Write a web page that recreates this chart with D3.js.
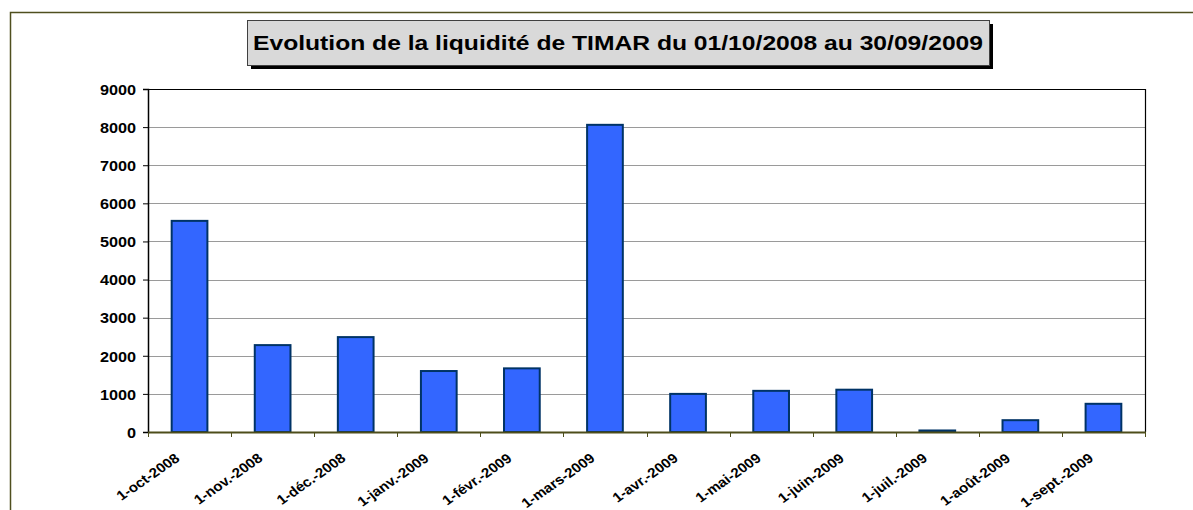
<!DOCTYPE html>
<html>
<head>
<meta charset="utf-8">
<script src="https://cdn.jsdelivr.net/npm/d3@7"></script>
<style>
  body { margin: 0; background: #fff; }
  svg text { font-family: Arial, "Liberation Sans", sans-serif; font-weight: bold; fill: #000; }
</style>
</head>
<body>
<div id="chart"></div>
<script>
// values
const months = ["1-oct-2008", "1-nov.-2008", "1-déc.-2008", "1-janv.-2009", "1-févr.-2009", "1-mars-2009",
  "1-avr.-2009", "1-mai-2009", "1-juin-2009", "1-juil.-2009", "1-août-2009", "1-sept.-2009"];
const liquidite = [5540, 2280, 2490, 1600, 1670, 8060, 1000, 1080, 1110, 40, 310, 740];
const yTicks = [0, 1000, 2000, 3000, 4000, 5000, 6000, 7000, 8000, 9000];
const titleText = "Evolution de la liquidité de TIMAR du 01/10/2008 au 30/09/2009";

const width = 1193, height = 510;
const plot = { left: 148, right: 1145, top: 89, bottom: 432 };
const sx = 1.12; // the original picture is stretched sideways a little

const data = months.map((m, i) => ({ month: m, value: liquidite[i] }));

const svg = d3.select("#chart").append("svg")
  .attr("width", width)
  .attr("height", height);

// outer chart frame (runs off right/bottom edges)
svg.append("rect")
  .attr("x", 10.5).attr("y", 12.5)
  .attr("width", width + 20).attr("height", height + 20)
  .attr("fill", "#fff")
  .attr("stroke", "#4f4f1f")
  .attr("stroke-width", 1.5);

// title box with shadow
svg.append("rect")
  .attr("x", 251).attr("y", 24).attr("width", 742).attr("height", 45)
  .attr("fill", "#000");
svg.append("rect")
  .attr("x", 247.5).attr("y", 20.5).attr("width", 742).attr("height", 45)
  .attr("fill", "#d9d9d9")
  .attr("stroke", "#404040")
  .attr("stroke-width", 1);
svg.append("text")
  .attr("x", 618).attr("y", 50)
  .attr("text-anchor", "middle")
  .attr("font-size", 20)
  .attr("textLength", 730)
  .attr("lengthAdjust", "spacingAndGlyphs")
  .text(titleText);

const x = d3.scaleBand()
  .domain(months)
  .range([plot.left, plot.right])
  .paddingInner(0.57)
  .paddingOuter(0.285);

const y = d3.scaleLinear()
  .domain([0, 9000])
  .range([plot.bottom, plot.top]);

// plot area
svg.append("rect")
  .attr("x", plot.left).attr("y", plot.top)
  .attr("width", plot.right - plot.left).attr("height", plot.bottom - plot.top)
  .attr("fill", "#fff");

// gridlines
svg.append("g")
  .selectAll("line")
  .data(yTicks.filter(d => d > 0 && d < 9000))
  .join("line")
  .attr("x1", plot.left).attr("x2", plot.right)
  .attr("y1", d => Math.round(y(d)) + 0.5).attr("y2", d => Math.round(y(d)) + 0.5)
  .attr("stroke", "#9a9a9a")
  .attr("stroke-width", 1);

// plot border (top + right)
svg.append("path")
  .attr("d", `M${plot.left},${plot.top + 0.5}H${plot.right + 0.5}V${plot.bottom}`)
  .attr("fill", "none")
  .attr("stroke", "#000")
  .attr("stroke-width", 1.2);

// bars
svg.append("g")
  .selectAll("rect")
  .data(data)
  .join("rect")
  .attr("x", d => x(d.month))
  .attr("y", d => y(d.value))
  .attr("width", x.bandwidth())
  .attr("height", d => y(0) - y(d.value))
  .attr("fill", "#3366ff")
  .attr("stroke", "#003366")
  .attr("stroke-width", 2);

// y axis
const gy = svg.append("g")
  .attr("transform", `translate(${plot.left},0)`)
  .call(d3.axisLeft(y).tickValues(yTicks).tickSize(5).tickFormat(d3.format("d")));
gy.select(".domain").attr("stroke", "#000").attr("stroke-width", 1.5);
gy.selectAll(".tick line").attr("stroke", "#000");
gy.selectAll(".tick text")
  .attr("x", null)
  .attr("dy", "0.36em")
  .attr("transform", `translate(-12,0) scale(${sx},1)`)
  .attr("font-size", 14.5)
  .attr("font-family", null);

// x axis: line + ticks on category boundaries
const step = x.step();
const bounds = d3.range(months.length + 1).map(i => plot.left + i * step);
svg.append("line")
  .attr("x1", plot.left).attr("x2", plot.right + 1)
  .attr("y1", plot.bottom + 0.5).attr("y2", plot.bottom + 0.5)
  .attr("stroke", "#4d4d1a")
  .attr("stroke-width", 2);
svg.append("g")
  .selectAll("line")
  .data(bounds)
  .join("line")
  .attr("x1", d => Math.round(d) + 0.5).attr("x2", d => Math.round(d) + 0.5)
  .attr("y1", plot.bottom).attr("y2", plot.bottom + 5)
  .attr("stroke", "#4d4d1a")
  .attr("stroke-width", 1);

// rotated category labels
svg.append("g")
  .selectAll("text")
  .data(months)
  .join("text")
  .attr("text-anchor", "end")
  .attr("font-size", 13.5)
  .attr("transform", d => `translate(${x(d) + x.bandwidth() / 2 - 9},460) scale(${sx},1) rotate(-38)`)
  .text(d => d);
</script>
</body>
</html>
